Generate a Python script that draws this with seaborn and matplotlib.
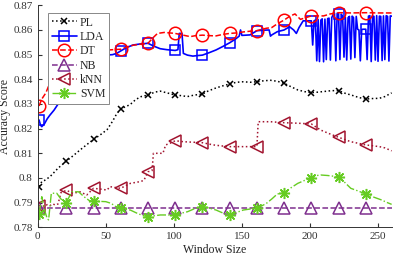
import numpy as np
import pandas as pd
import matplotlib
matplotlib.use('Agg')
import matplotlib.pyplot as plt
from matplotlib.ticker import FormatStrFormatter
import seaborn as sns

# window sizes where markers are drawn
mark_x = [1, 21, 41, 61, 81, 101, 121, 141, 161, 181, 201, 221, 241]

pl_x = [1, 3, 5, 9, 15, 21, 26, 31, 36, 41, 46, 51, 55, 58, 61, 65, 68, 72, 76, 81,
        86, 90, 95, 101, 105, 110, 115, 121, 125, 130, 135, 141, 146, 151, 156, 161,
        166, 171, 176, 181, 186, 191, 196, 201, 206, 211, 216, 221, 226, 231, 236,
        241, 246, 251, 255, 260]
pl_y = [0.7965, 0.7985, 0.7990, 0.8005, 0.8040, 0.8068, 0.8090, 0.8113, 0.8135, 0.8156,
        0.8175, 0.8196, 0.8230, 0.8260, 0.8280, 0.8290, 0.8298, 0.8318, 0.8330, 0.8336,
        0.8348, 0.8352, 0.8345, 0.8336, 0.8334, 0.8330, 0.8336, 0.8340, 0.8352, 0.8363,
        0.8372, 0.8381, 0.8388, 0.8390, 0.8388, 0.8390, 0.8394, 0.8396, 0.8392, 0.8384,
        0.8370, 0.8357, 0.8350, 0.8346, 0.8348, 0.8351, 0.8354, 0.8354, 0.8343, 0.8335,
        0.8326, 0.8320, 0.8322, 0.8323, 0.8330, 0.8345]

lda_x = [1, 2, 3, 5, 7, 9, 12, 15, 21, 30, 41, 50, 55, 58, 61, 65, 70, 75, 81, 85, 90,
         95, 101, 103, 104, 106, 107, 110, 114, 117, 121, 126, 131, 136, 141, 145, 148,
         149, 150, 156, 161, 166, 170, 171, 172, 176, 181, 185, 188, 190, 192, 195, 201,
         202, 203, 204, 205, 206, 207, 208, 209, 210, 211, 212, 213, 214, 215, 216, 217,
         218, 219, 220, 221, 222, 223, 224, 225, 226, 227, 228, 229, 230, 231, 232, 233,
         234, 235, 236, 237, 238, 239, 240, 241, 242, 243, 244, 245, 246, 247, 248, 249,
         250, 251, 252, 253, 254, 255, 256, 257, 258, 259, 260]
lda_y = [0.8235, 0.8215, 0.8208, 0.8220, 0.8240, 0.8255, 0.8275, 0.8300, 0.8360, 0.8420,
         0.8470, 0.8498, 0.8500, 0.8505, 0.8515, 0.8528, 0.8539, 0.8543, 0.8546, 0.8535,
         0.8524, 0.8520, 0.8517, 0.8520, 0.8586, 0.8586, 0.8505, 0.8498, 0.8494, 0.8496,
         0.8498, 0.8508, 0.8519, 0.8533, 0.8548, 0.8562, 0.8575, 0.8600, 0.8578, 0.8580,
         0.8597, 0.8599, 0.8600, 0.8575, 0.8580, 0.8593, 0.8600, 0.8613, 0.8600, 0.8586,
         0.8610, 0.8637, 0.8637, 0.8539, 0.8637, 0.8640, 0.8475, 0.8642, 0.8472, 0.8640,
         0.8645, 0.8471, 0.8644, 0.8480, 0.8646, 0.8648, 0.8478, 0.8650, 0.8662, 0.8668,
         0.8475, 0.8668, 0.8666, 0.8480, 0.8664, 0.8655, 0.8490, 0.8652, 0.8478, 0.8650,
         0.8655, 0.8482, 0.8656, 0.8650, 0.8488, 0.8655, 0.8603, 0.8600, 0.8475, 0.8602,
         0.8603, 0.8603, 0.8603, 0.8480, 0.8656, 0.8658, 0.8472, 0.8657, 0.8655, 0.8478,
         0.8658, 0.8473, 0.8656, 0.8655, 0.8476, 0.8657, 0.8480, 0.8658, 0.8655, 0.8474,
         0.8657, 0.8656]

dt_x = [1, 3, 6, 10, 15, 21, 30, 41, 46, 50, 55, 61, 65, 70, 75, 81, 85, 88, 93, 97,
        101, 106, 112, 116, 121, 126, 131, 136, 141, 146, 151, 156, 161, 165, 168, 172,
        176, 181, 185, 189, 193, 197, 201, 206, 210, 215, 221, 230, 241, 250, 260]
dt_y = [0.8292, 0.8320, 0.8345, 0.8400, 0.8450, 0.8480, 0.8500, 0.8510, 0.8515, 0.8518,
        0.8520, 0.8522, 0.8530, 0.8538, 0.8542, 0.8546, 0.8570, 0.8586, 0.8590, 0.8588,
        0.8586, 0.8580, 0.8573, 0.8577, 0.8579, 0.8577, 0.8576, 0.8582, 0.8586, 0.8588,
        0.8592, 0.8595, 0.8597, 0.8603, 0.8607, 0.8610, 0.8625, 0.8640, 0.8655, 0.8665,
        0.8643, 0.8650, 0.8657, 0.8657, 0.8657, 0.8665, 0.8670, 0.8669, 0.8670, 0.8669,
        0.8669]

nb_x = [1, 21, 41, 61, 81, 101, 121, 141, 161, 181, 201, 221, 241, 260]
nb_y = [0.7877, 0.7877, 0.7877, 0.7877, 0.7877, 0.7877, 0.7877, 0.7877, 0.7877, 0.7877,
        0.7877, 0.7877, 0.7877, 0.7877]

knn_x = [1, 3, 5, 7, 9, 11, 13, 15, 17, 21, 26, 31, 36, 41, 46, 51, 53, 56, 61, 65, 68,
         72, 75, 78, 81, 84, 85, 88, 92, 94, 97, 101, 107, 114, 121, 129, 135, 141, 151,
         161, 162, 171, 181, 191, 201, 208, 214, 221, 230, 236, 241, 251, 255, 260]
knn_y = [0.7886, 0.7890, 0.7884, 0.7892, 0.7888, 0.7895, 0.7890, 0.7895, 0.7940, 0.7950,
         0.7938, 0.7944, 0.7931, 0.7958, 0.7955, 0.7951, 0.7965, 0.7962, 0.7958, 0.7970,
         0.7978, 0.7982, 0.7985, 0.7990, 0.8025, 0.8030, 0.8100, 0.8100, 0.8100, 0.8134,
         0.8140, 0.8151, 0.8147, 0.8145, 0.8143, 0.8134, 0.8130, 0.8127, 0.8127, 0.8127,
         0.8228, 0.8228, 0.8224, 0.8222, 0.8219, 0.8194, 0.8180, 0.8165, 0.8147, 0.8140,
         0.8134, 0.8127, 0.8122, 0.8110]

svm_x = [1, 3, 5, 7, 8, 10, 14, 17, 21, 25, 30, 34, 38, 41, 46, 50, 54, 57, 61, 65, 68,
         73, 77, 81, 86, 90, 96, 101, 106, 110, 115, 121, 126, 131, 136, 141, 146, 151,
         156, 161, 165, 168, 172, 176, 181, 186, 191, 196, 201, 205, 208, 213, 216, 221,
         225, 230, 235, 241, 245, 249, 253, 256, 260]
svm_y = [0.7855, 0.7924, 0.7870, 0.7835, 0.7830, 0.7938, 0.7938, 0.7915, 0.7900, 0.7944,
         0.7944, 0.7924, 0.7908, 0.7906, 0.7905, 0.7904, 0.7897, 0.7885, 0.7880, 0.7872,
         0.7870, 0.7857, 0.7848, 0.7843, 0.7847, 0.7850, 0.7850, 0.7849, 0.7858, 0.7863,
         0.7875, 0.7884, 0.7878, 0.7870, 0.7858, 0.7850, 0.7860, 0.7870, 0.7874, 0.7877,
         0.7888, 0.7897, 0.7915, 0.7935, 0.7940, 0.7960, 0.7978, 0.7990, 0.7999, 0.8010,
         0.8012, 0.8010, 0.8008, 0.8005, 0.7985, 0.7958, 0.7948, 0.7935, 0.7926, 0.7918,
         0.7910, 0.7902, 0.7893]

x_ticks = [0, 50, 100, 150, 200, 250]
y_ticks = [0.78, 0.79, 0.80, 0.81, 0.82, 0.83, 0.84, 0.85, 0.86, 0.87]

sns.set_style('ticks')
plt.rcParams['font.family'] = ['Liberation Serif', 'DejaVu Serif']

fig = plt.figure(figsize=(3.94, 2.56), dpi=100)
ax = fig.add_axes([0.0957, 0.1121, 0.8983, 0.8672])

# asterisk marker like matlab's '*'
asterisk = (8, 2, 0)

series = [
    ('PL', pl_x, pl_y, 'black', ':', 'x', 5, 1.1),
    ('LDA', lda_x, lda_y, '#0000ff', '-', 's', 7, 1.2),
    ('DT', dt_x, dt_y, '#ff0000', '--', 'o', 9, 1.1),
    ('NB', nb_x, nb_y, '#7e2f8e', '--', '^', 8, 1.1),
    ('kNN', knn_x, knn_y, '#a2142f', ':', '<', 8, 1.1),
    ('SVM', svm_x, svm_y, '#66cc22', '-.', asterisk, 8, 1.0),
]

for name, xs, ys, col, ls, mk, ms, lw in series:
    df = pd.DataFrame({'x': xs, 'y': ys})
    every = [v in mark_x for v in xs]
    face = 'none' if mk in ('s', 'o', '^', '<') else col
    sns.lineplot(data=df, x='x', y='y', ax=ax, color=col, linestyle=ls, lw=lw,
                 marker=mk, markersize=ms, markevery=every,
                 markerfacecolor=face, markeredgecolor=col, markeredgewidth=1.1,
                 label=name)

ax.set_xlim(0, 260)
ax.set_ylim(0.78, 0.87)
ax.set_xticks(x_ticks)
ax.set_yticks(y_ticks)
ax.yaxis.set_major_formatter(FormatStrFormatter('%g'))
ax.tick_params(direction='in', length=3, labelsize=8, colors='#333333')
for s in ['left', 'bottom']:
    ax.spines[s].set_color('#333333')
    ax.spines[s].set_linewidth(0.7)
sns.despine(ax=ax)
ax.set_xlabel('Window Size', fontsize=8.5, color='#222222', labelpad=2)
ax.set_ylabel('Accuracy Score', fontsize=8.5, color='#222222', labelpad=2)

leg = ax.legend(loc='upper left', bbox_to_anchor=(0.029, 0.965), borderaxespad=0,
                fontsize=8.5, handlelength=2.2, handletextpad=0.2, labelspacing=0.2,
                borderpad=0.3, frameon=True, fancybox=False, framealpha=1)
leg.get_frame().set_edgecolor('#888888')
leg.get_frame().set_linewidth(0.7)

fig.savefig('out.png', dpi=100)
